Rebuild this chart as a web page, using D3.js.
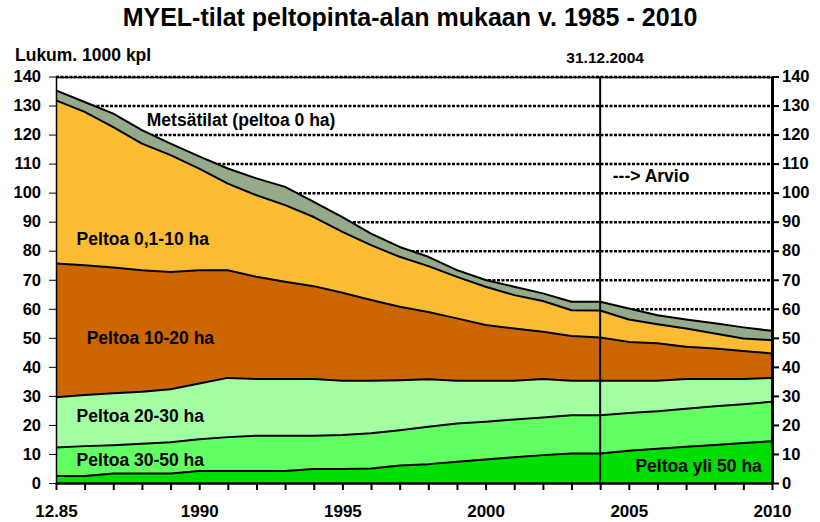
<!DOCTYPE html>
<html>
<head>
<meta charset="utf-8">
<script src="https://cdn.jsdelivr.net/npm/d3@7"></script>
<style>
  body { margin: 0; background: #fff; }
  text { font-family: Arial, "Liberation Sans", sans-serif; font-weight: bold; fill: #000; }
</style>
</head>
<body>
<script>
// MYEL-tilat peltopinta-alan mukaan, 1000 kpl

var years = [1985, 1986, 1987, 1988, 1989, 1990, 1991, 1992, 1993, 1994, 1995, 1996, 1997,
             1998, 1999, 2000, 2001, 2002, 2003, 2004, 2005, 2006, 2007, 2008, 2009, 2010];

var yli50  = [2.4, 2.4, 3.3, 3.3, 3.3, 4.1, 4.1, 4.1, 4.1, 4.8, 4.8, 5.0, 6.0,
              6.5, 7.3, 8.1, 8.9, 9.6, 10.2, 10.2, 11.1, 11.8, 12.5, 13.1, 13.8, 14.4];
var ha3050 = [9.8, 10.3, 9.7, 10.2, 10.7, 11.0, 11.7, 12.2, 12.2, 11.5, 11.7, 12.1, 12.2,
              12.9, 13.2, 13.0, 13.0, 13.0, 13.1, 13.1, 13.0, 12.9, 13.1, 13.3, 13.3, 13.6];
var ha2030 = [17.3, 17.6, 17.9, 17.9, 18.3, 19.2, 20.4, 19.5, 19.5, 19.5, 18.7, 18.1, 17.2,
              16.3, 14.7, 14.1, 13.3, 13.2, 11.9, 11.9, 11.1, 10.5, 10.2, 9.4, 8.7, 8.2];
var ha1020 = [46.1, 44.7, 43.3, 41.9, 40.4, 39.0, 37.1, 35.2, 33.5, 32.0, 30.3, 27.8, 25.3,
              23.2, 21.5, 19.2, 18.0, 16.3, 15.4, 14.9, 13.4, 12.9, 11.1, 10.5, 9.7, 8.4];
var ha0110 = [56.2, 52.8, 48.4, 43.6, 40.2, 35.0, 29.8, 28.1, 26.4, 23.8, 21.0, 18.9, 17.2,
              15.8, 14.3, 13.2, 11.5, 10.6, 8.9, 9.3, 7.7, 6.6, 6.3, 5.2, 4.3, 4.6];
var metsa  = [3.4, 3.4, 4.6, 4.6, 4.0, 4.2, 5.2, 5.8, 6.3, 5.2, 5.1, 4.0, 3.4,
              3.2, 2.3, 2.3, 2.9, 2.6, 2.9, 3.0, 3.8, 3.1, 3.1, 3.5, 3.8, 3.2];

var keys = ["yli50", "ha3050", "ha2030", "ha1020", "ha0110", "metsa"];
var colors = ["#00dd00", "#62ff62", "#a2ffa2", "#cc6600", "#fbbc34", "#94aa8a"];

var yTicks = [0, 10, 20, 30, 40, 50, 60, 70, 80, 90, 100, 110, 120, 130, 140];
var xTickYears = [1985, 1990, 1995, 2000, 2005, 2010];
var xTickLabels = ["12.85", "1990", "1995", "2000", "2005", "2010"];
var cutYear = 2004;

var width = 820, height = 522;
var margin = {top: 76.5, right: 48, bottom: 39, left: 56};

var svg = d3.select("body").append("svg")
    .attr("width", width)
    .attr("height", height);

var x = d3.scaleLinear().domain([1985, 2010]).range([margin.left, width - margin.right]);
var y = d3.scaleLinear().domain([0, 140]).range([height - margin.bottom, margin.top]);

var table = years.map(function(yr, i) {
  return {year: yr, yli50: yli50[i], ha3050: ha3050[i], ha2030: ha2030[i],
          ha1020: ha1020[i], ha0110: ha0110[i], metsa: metsa[i]};
});

var series = d3.stack().keys(keys)(table);

// title
svg.append("text")
    .attr("x", 410).attr("y", 26)
    .attr("text-anchor", "middle")
    .style("font-size", "25px")
    .text("MYEL-tilat peltopinta-alan mukaan v. 1985 - 2010");

svg.append("text")
    .attr("x", 15).attr("y", 61)
    .style("font-size", "17.5px")
    .text("Lukum. 1000 kpl");

svg.append("text")
    .attr("x", x(cutYear) + 5).attr("y", 63)
    .attr("text-anchor", "middle")
    .style("font-size", "15.5px")
    .text("31.12.2004");

// dotted gridlines, drawn as axis ticks across the plot
var grid = svg.append("g")
    .attr("class", "grid")
    .attr("transform", "translate(" + margin.left + ",0)")
    .call(d3.axisRight(y).tickValues(yTicks.slice(1)).tickSize(x(2010) - x(1985)).tickFormat(""));
grid.select(".domain").remove();
grid.selectAll(".tick line")
    .attr("stroke", "#000")
    .attr("stroke-width", 2.5)
    .style("stroke-dasharray", "3 1.5");

// top border
svg.append("path")
    .attr("d", "M" + x(1985) + "," + (y(140) + 1) + "H" + x(2010))
    .attr("stroke", "#000").attr("stroke-width", 1.5).attr("fill", "none");

var area = d3.area()
    .x(function(d) { return x(d.data.year); })
    .y0(function(d) { return y(d[0]); })
    .y1(function(d) { return y(d[1]); });

var topLine = d3.line()
    .x(function(d) { return x(d.data.year); })
    .y(function(d) { return y(d[1]); });

svg.selectAll(".layer")
  .data(series)
  .enter().append("path")
    .attr("class", "layer")
    .attr("d", area)
    .attr("fill", function(d, i) { return colors[i]; });

svg.selectAll(".edge")
  .data(series)
  .enter().append("path")
    .attr("class", "edge")
    .attr("d", topLine)
    .attr("fill", "none")
    .attr("stroke", "#000")
    .attr("stroke-width", 2)
    .attr("stroke-linejoin", "round");

// 31.12.2004 line
svg.append("line")
    .attr("x1", x(cutYear)).attr("x2", x(cutYear))
    .attr("y1", y(140)).attr("y2", y(0))
    .attr("stroke", "#000").attr("stroke-width", 2);

// axes
var leftAxis = svg.append("g").attr("class", "axis")
    .attr("transform", "translate(" + margin.left + ",0)")
    .call(d3.axisLeft(y).tickValues(yTicks).tickSize(7).tickSizeOuter(0).tickPadding(8));
leftAxis.select(".domain").attr("stroke-width", 1.5);

var rightAxis = svg.append("g").attr("class", "axis")
    .attr("transform", "translate(" + (width - margin.right) + ",0)")
    .call(d3.axisRight(y).tickValues(yTicks).tickSize(7).tickSizeOuter(0).tickPadding(3));
rightAxis.select(".domain").attr("stroke-width", 3);
rightAxis.selectAll(".tick line").attr("stroke-width", 2);

var bottomAxis = svg.append("g").attr("class", "axis")
    .attr("transform", "translate(0," + (height - margin.bottom) + ")")
    .call(d3.axisBottom(x).tickValues(years).tickSize(7).tickSizeOuter(0).tickPadding(15)
      .tickFormat(function(d) {
        var k = xTickYears.indexOf(d);
        return k < 0 ? "" : xTickLabels[k];
      }));
bottomAxis.select(".domain").attr("stroke-width", 2.5);
bottomAxis.selectAll(".tick line").attr("stroke-width", 2);

svg.selectAll(".axis text")
    .style("font-family", "Arial, 'Liberation Sans', sans-serif")
    .style("font-weight", "bold")
    .style("font-size", "16.5px")
    .attr("fill", "#000");
bottomAxis.selectAll("text").style("font-size", "17px");

// series labels
var labels = [
  {text: "Metsätilat (peltoa 0 ha)", year: 1988.17, value: 122.8},
  {text: "Peltoa 0,1-10 ha", year: 1985.72, value: 81.9},
  {text: "Peltoa 10-20 ha", year: 1986.07, value: 47.8},
  {text: "Peltoa 20-30 ha", year: 1985.72, value: 21.1},
  {text: "Peltoa 30-50 ha", year: 1985.72, value: 5.95},
  {text: "Peltoa yli 50 ha", year: 2005.23, value: 3.9},
  {text: "---> Arvio", year: 2004.44, value: 103.7}
];

svg.selectAll(".lbl")
  .data(labels)
  .enter().append("text")
    .attr("class", "lbl")
    .attr("x", function(d) { return x(d.year); })
    .attr("y", function(d) { return y(d.value); })
    .style("font-size", "17.5px")
    .text(function(d) { return d.text; });
</script>
</body>
</html>
